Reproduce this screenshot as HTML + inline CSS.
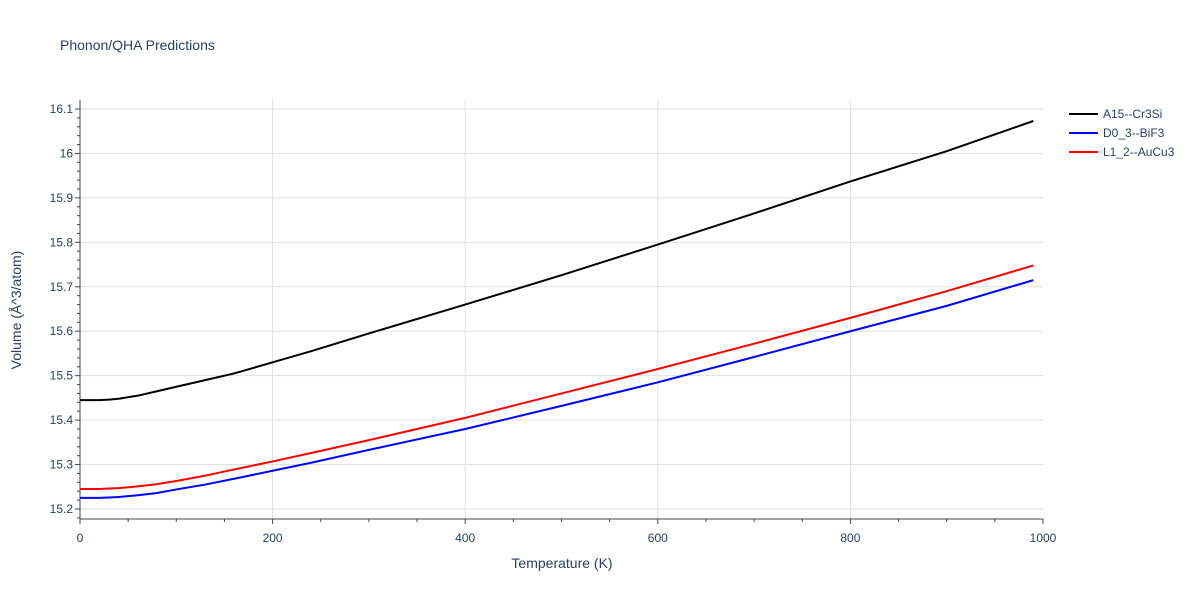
<!DOCTYPE html>
<html><head><meta charset="utf-8"><style>
body{margin:0;background:#fff;font-family:"Liberation Sans",sans-serif}
svg text{font-family:"Liberation Sans",sans-serif;fill:#2a3f5f}
</style></head><body>
<svg width="1200" height="600">
<text x="60" y="50" font-size="14">Phonon/QHA Predictions</text>
<g id="grid"></g><g id="axes"></g><g id="series"></g>
<text x="562" y="568" font-size="14" text-anchor="middle">Temperature (K)</text>
<text transform="translate(21,310) rotate(-90)" font-size="14" text-anchor="middle">Volume (Å^3/atom)</text>
<g id="legend"></g>
</svg>
<script>
const temps=[0,20,30,40,60,80,100,130,160,200,240,300,400,500,600,700,800,900,990];
const seriesNames=["A15--Cr3Si","D0_3--BiF3","L1_2--AuCu3"];
const volA15=[15.445,15.445,15.446,15.448,15.455,15.465,15.475,15.49,15.505,15.53,15.555,15.595,15.66,15.726,15.795,15.865,15.937,16.005,16.073];
const volD03=[15.225,15.225,15.226,15.227,15.231,15.236,15.244,15.255,15.268,15.286,15.304,15.333,15.38,15.432,15.485,15.542,15.6,15.657,15.715];
const volL12=[15.245,15.245,15.246,15.247,15.251,15.256,15.263,15.275,15.289,15.307,15.326,15.355,15.405,15.46,15.515,15.572,15.63,15.69,15.748];
const xTicks=[0,200,400,600,800,1000];
const yTicks=[15.2,15.3,15.4,15.5,15.6,15.7,15.8,15.9,16,16.1];
const colors=["#000000","#0000ff","#ff0000"];
const NS="http://www.w3.org/2000/svg";
const X0=80,X1=1043,Y0=519,Y1=100;
const xs=v=>X0+v/1000*(X1-X0);
const ys=v=>509-(v-15.2)/0.9*400;
function mk(t,a,p){const e=document.createElementNS(NS,t);for(const k in a)e.setAttribute(k,a[k]);p.appendChild(e);return e;}
const grid=document.getElementById('grid'),axes=document.getElementById('axes'),ser=document.getElementById('series'),leg=document.getElementById('legend');
xTicks.forEach(t=>{
 if(t>0&&t<1000){const l=mk('line',{x1:xs(t),x2:xs(t),y1:Y1,y2:Y0,stroke:'#e1e1e1'},grid);
 
 }
 const tx=mk('text',{x:xs(t),y:542,'font-size':12,'text-anchor':'middle'},axes);tx.textContent=t;
 
 
});
for(let t=0;t<=1000;t+=50){const l=mk('line',{x1:xs(t),x2:xs(t),y1:Y0,y2:Y0+(t%200==0?5:3),stroke:'#444'},axes);
 
 }
yTicks.forEach(t=>{
 const l=mk('line',{x1:X0,x2:X1,y1:ys(t),y2:ys(t),stroke:'#e1e1e1'},grid);
 
 
 const tx=mk('text',{x:73,y:ys(t)+4,'font-size':12,'text-anchor':'end'},axes);tx.textContent=String(t);
 
 
});
for(let i=0;i<=46;i++){const v=15.18+i*0.02;const y=ys(v);if(y<Y1||y>Y0)continue;
 const l=mk('line',{x1:X0-(Math.abs((v*10)-Math.round(v*10))<0.01?5:3),x2:X0,y1:y,y2:y,stroke:'#444'},axes);
 
 }
const ax=mk('line',{x1:X0,x2:X0,y1:Y1,y2:Y0,stroke:'#444'},axes);


const bx=mk('line',{x1:X0,x2:X1,y1:Y0,y2:Y0,stroke:'#444'},axes);


[volA15,volD03,volL12].forEach((vals,i)=>{
 const p=mk('polyline',{points:temps.map((t,j)=>xs(t)+','+ys(vals[j])).join(' '),fill:'none',stroke:colors[i],'stroke-width':2},ser);
 
 
 const y=114+i*19;
 const g=mk('g',{},leg);
 
 
 mk('line',{x1:1069,x2:1098,y1:y,y2:y,stroke:colors[i],'stroke-width':2},g);
 const tx=mk('text',{x:1103,y:y+4,'font-size':12},g);tx.textContent=seriesNames[i];
});
</script>
</body></html>
